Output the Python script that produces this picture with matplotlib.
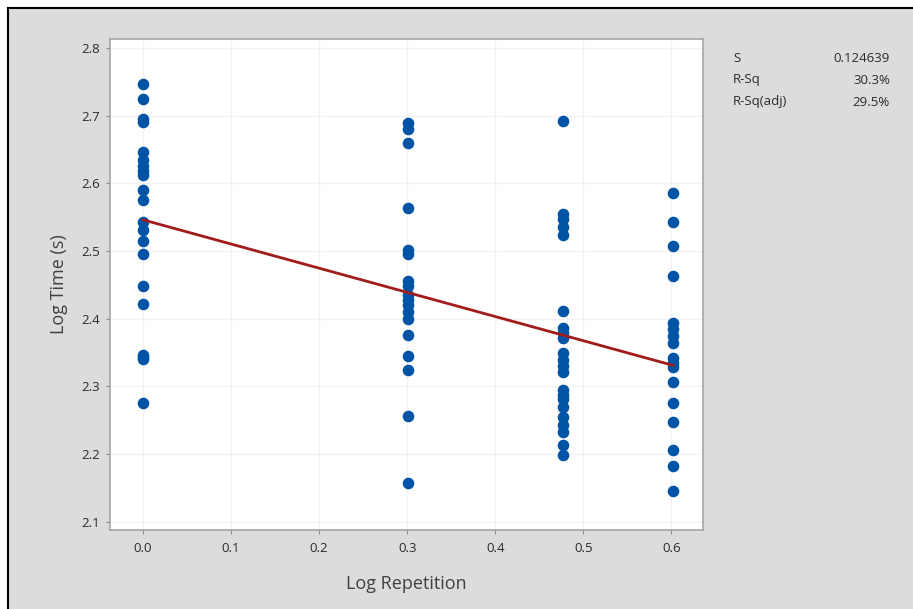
import matplotlib.pyplot as plt
from matplotlib.patches import Rectangle
from matplotlib.lines import Line2D

# Data.
rep_levels = [0.0, 0.30103, 0.47712, 0.60206]
time_rep1 = [2.746, 2.725, 2.695, 2.690, 2.646, 2.635, 2.625, 2.618, 2.612,
             2.590, 2.575, 2.543, 2.531, 2.514, 2.496, 2.449, 2.421,
             2.347, 2.343, 2.340, 2.275]
time_rep2 = [2.689, 2.680, 2.660, 2.564, 2.502, 2.496, 2.455, 2.448, 2.435,
             2.428, 2.420, 2.410, 2.400, 2.376, 2.345, 2.324, 2.256, 2.158]
time_rep3 = [2.692, 2.554, 2.547, 2.535, 2.523, 2.412, 2.386, 2.379, 2.371,
             2.349, 2.339, 2.330, 2.322, 2.295, 2.288, 2.281, 2.270, 2.255,
             2.243, 2.232, 2.214, 2.199]
time_rep4 = [2.585, 2.543, 2.508, 2.463, 2.393, 2.385, 2.374, 2.364, 2.342,
             2.335, 2.328, 2.307, 2.276, 2.248, 2.206, 2.182, 2.145]

fit_intercept = 2.546
fit_slope = -0.357

stat_names = ['S', 'R-Sq', 'R-Sq(adj)']
stat_values = ['0.124639', '30.3%', '29.5%']

xticks = [0.0, 0.1, 0.2, 0.3, 0.4, 0.5, 0.6]
yticks = [2.1, 2.2, 2.3, 2.4, 2.5, 2.6, 2.7, 2.8]

plt.rcParams['font.family'] = ['Open Sans', 'DejaVu Sans']

fig = plt.figure(figsize=(9.13, 6.09), dpi=100)
fig.patch.set_facecolor('white')

# Grey panel with black border on top/left.
W, H = 913, 609
fig.patches.append(Rectangle((9 / W, 0), 1, 1 - 9 / H, transform=fig.transFigure,
                             facecolor='#dcdcdc', edgecolor='none', zorder=-5))
fig.lines.append(Line2D([8 / W, 1], [1 - 8 / H, 1 - 8 / H], transform=fig.transFigure,
                        color='black', lw=1.5, zorder=-4))
fig.lines.append(Line2D([8 / W, 8 / W], [0, 1 - 8 / H], transform=fig.transFigure,
                        color='black', lw=1.5, zorder=-4))

ax = fig.add_axes([110 / W, 1 - 530 / H, (703 - 110) / W, (530 - 39) / H])
ax.set_zorder(5)
ax.set_facecolor('white')

all_series = [time_rep1, time_rep2, time_rep3, time_rep4]
for xv, ys in zip(rep_levels, all_series):
    ax.scatter([xv] * len(ys), ys, s=70, color='#0054a6', zorder=3, linewidths=0)

# Fitted line.
ax.plot([rep_levels[0], rep_levels[-1]],
        [fit_intercept + fit_slope * rep_levels[0], fit_intercept + fit_slope * rep_levels[-1]],
        color='#a21c1c', lw=2.0, zorder=4)

ax.set_xlim(-0.0375, 0.636)
ax.set_ylim(2.088, 2.813)
ax.set_xticks(xticks)
ax.set_yticks(yticks)
ax.set_xticklabels(['%.1f' % v for v in xticks])
ax.set_yticklabels(['%.1f' % v for v in yticks])
ax.grid(True, color='#f2f2f2', lw=1.0, zorder=0)
ax.set_axisbelow(True)
ax.tick_params(colors='#8c8c8c', labelcolor='#2b2b2b', labelsize=9.5, length=3, pad=4)
ax.tick_params(axis='x', pad=6)
for sp in ax.spines.values():
    sp.set_color('#a6a6a6')
    sp.set_linewidth(1.2)

ax.set_xlabel('Log Repetition', fontsize=13, color='#404040', labelpad=14)
ax.set_ylabel('Log Time (s)', fontsize=13, color='#404040', labelpad=10)

for i, (name, val) in enumerate(zip(stat_names, stat_values)):
    y = 1 - (58 + i * 22) / H
    fig.text(733 / W, y, name, fontsize=9.5, color='#2b2b2b', va='center', ha='left')
    fig.text(890 / W, y, val, fontsize=9.5, color='#2b2b2b', va='center', ha='right')

fig.savefig('out.png', dpi=100)
